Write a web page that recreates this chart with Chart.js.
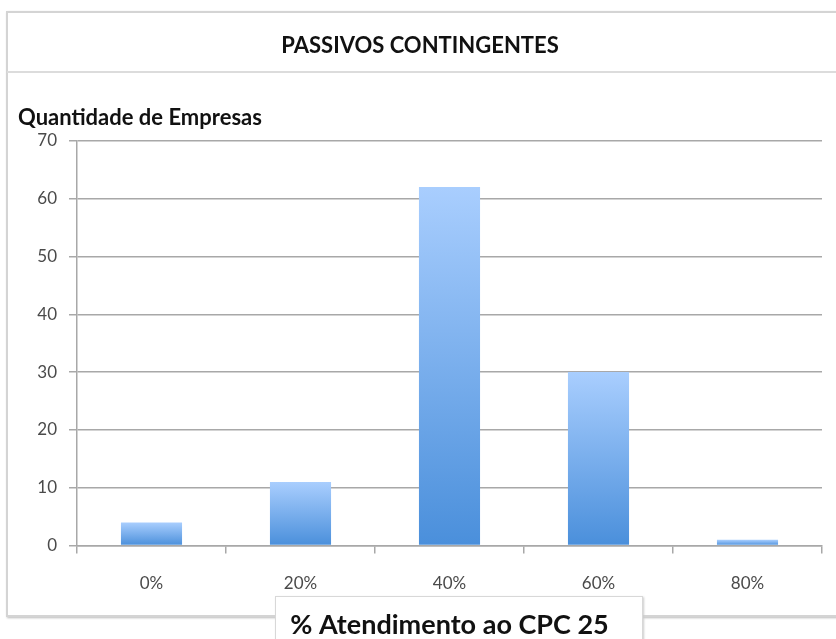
<!DOCTYPE html>
<html>
<head>
<meta charset="utf-8">
<script src="https://cdn.jsdelivr.net/npm/chart.js@4.4.1/dist/chart.umd.min.js"></script>
<style>
body{margin:0;background:#fff;}
.wrap{position:relative;width:836px;height:639px;overflow:hidden;}
.frame{position:absolute;left:6px;top:11px;width:840px;height:602px;border:2px solid #d4d4d4;box-shadow:1px 1px 2px #bbb;}
.sep{position:absolute;left:7px;top:71px;width:840px;height:0;border-top:2px solid #dcdcdc;}
.xbox{position:absolute;left:275px;top:596px;width:366px;height:60px;background:#fff;border:1px solid #d8d8d8;box-shadow:1px 1px 2px #ccc;}
canvas{position:absolute;left:0;top:0;}
</style>
</head>
<body>
<div class="wrap">
<div class="frame"></div>
<div class="sep"></div>
<div class="xbox"></div>
<canvas id="chart" width="836" height="639"></canvas>
</div>
<script>
// dados
const categorias = ["0%", "20%", "40%", "60%", "80%"];
const empresas = [4, 11, 62, 30, 1];

const tituloGrafico = "PASSIVOS CONTINGENTES";
const tituloY = "Quantidade de Empresas";
const tituloX = "% Atendimento ao CPC 25";

const fonte = "Lato, 'Open Sans', sans-serif";

// gradient per bar, light top to darker bottom
function corBarra(ctx){
    const chart = ctx.chart;
    if(!chart.chartArea || ctx.parsed == undefined) return "#7fb0ee";
    const y = chart.scales.y;
    const topo = y.getPixelForValue(ctx.parsed.y);
    const base = y.getPixelForValue(0);
    const g = chart.ctx.createLinearGradient(0, topo, 0, base);
    g.addColorStop(0, "#a9cefe");
    g.addColorStop(1, "#4a8fdb");
    return g;
}

new Chart(document.getElementById("chart"), {
    type: "bar",
    data: {
        labels: categorias,
        datasets: [{
            data: empresas,
            backgroundColor: corBarra,
            borderWidth: 0,
            barPercentage: 0.41,
            categoryPercentage: 1
        }]
    },
    options: {
        responsive: false,
        animation: false,
        layout: {
            padding: {left: 18, right: 14, top: 33, bottom: 0}
        },
        plugins: {
            legend: {display: false},
            tooltip: {enabled: false},
            title: {
                display: true,
                text: tituloGrafico,
                color: "#111",
                font: {family: fonte, size: 22, weight: "bold"},
                padding: {top: 0, bottom: 45}
            },
            subtitle: {
                display: true,
                text: tituloY,
                align: "start",
                color: "#111",
                font: {family: fonte, size: 22, weight: "bold"},
                padding: {top: 0, bottom: 10}
            }
        },
        scales: {
            x: {
                grid: {
                    display: true,
                    drawOnChartArea: false,
                    drawTicks: true,
                    tickLength: 8,
                    offset: true,
                    color: "#a8a8a8",
                    lineWidth: 1.5
                },
                border: {color: "#a8a8a8", width: 1.5},
                ticks: {
                    color: "#4a4a4a",
                    padding: 20,
                    font: {family: fonte, size: 17}
                },
                title: {
                    display: true,
                    text: tituloX,
                    color: "#111",
                    font: {family: fonte, size: 27, weight: "bold", lineHeight: 1},
                    padding: {top: -2, bottom: 0}
                }
            },
            y: {
                min: 0,
                max: 70,
                afterFit: function(scale){ scale.width = 59; },
                ticks: {
                    stepSize: 10,
                    color: "#4a4a4a",
                    padding: 12,
                    font: {family: fonte, size: 17}
                },
                grid: {
                    color: "#a8a8a8",
                    lineWidth: 1.5,
                    tickLength: 8
                },
                border: {color: "#a8a8a8", width: 1.5}
            }
        }
    }
});
</script>
</body>
</html>
